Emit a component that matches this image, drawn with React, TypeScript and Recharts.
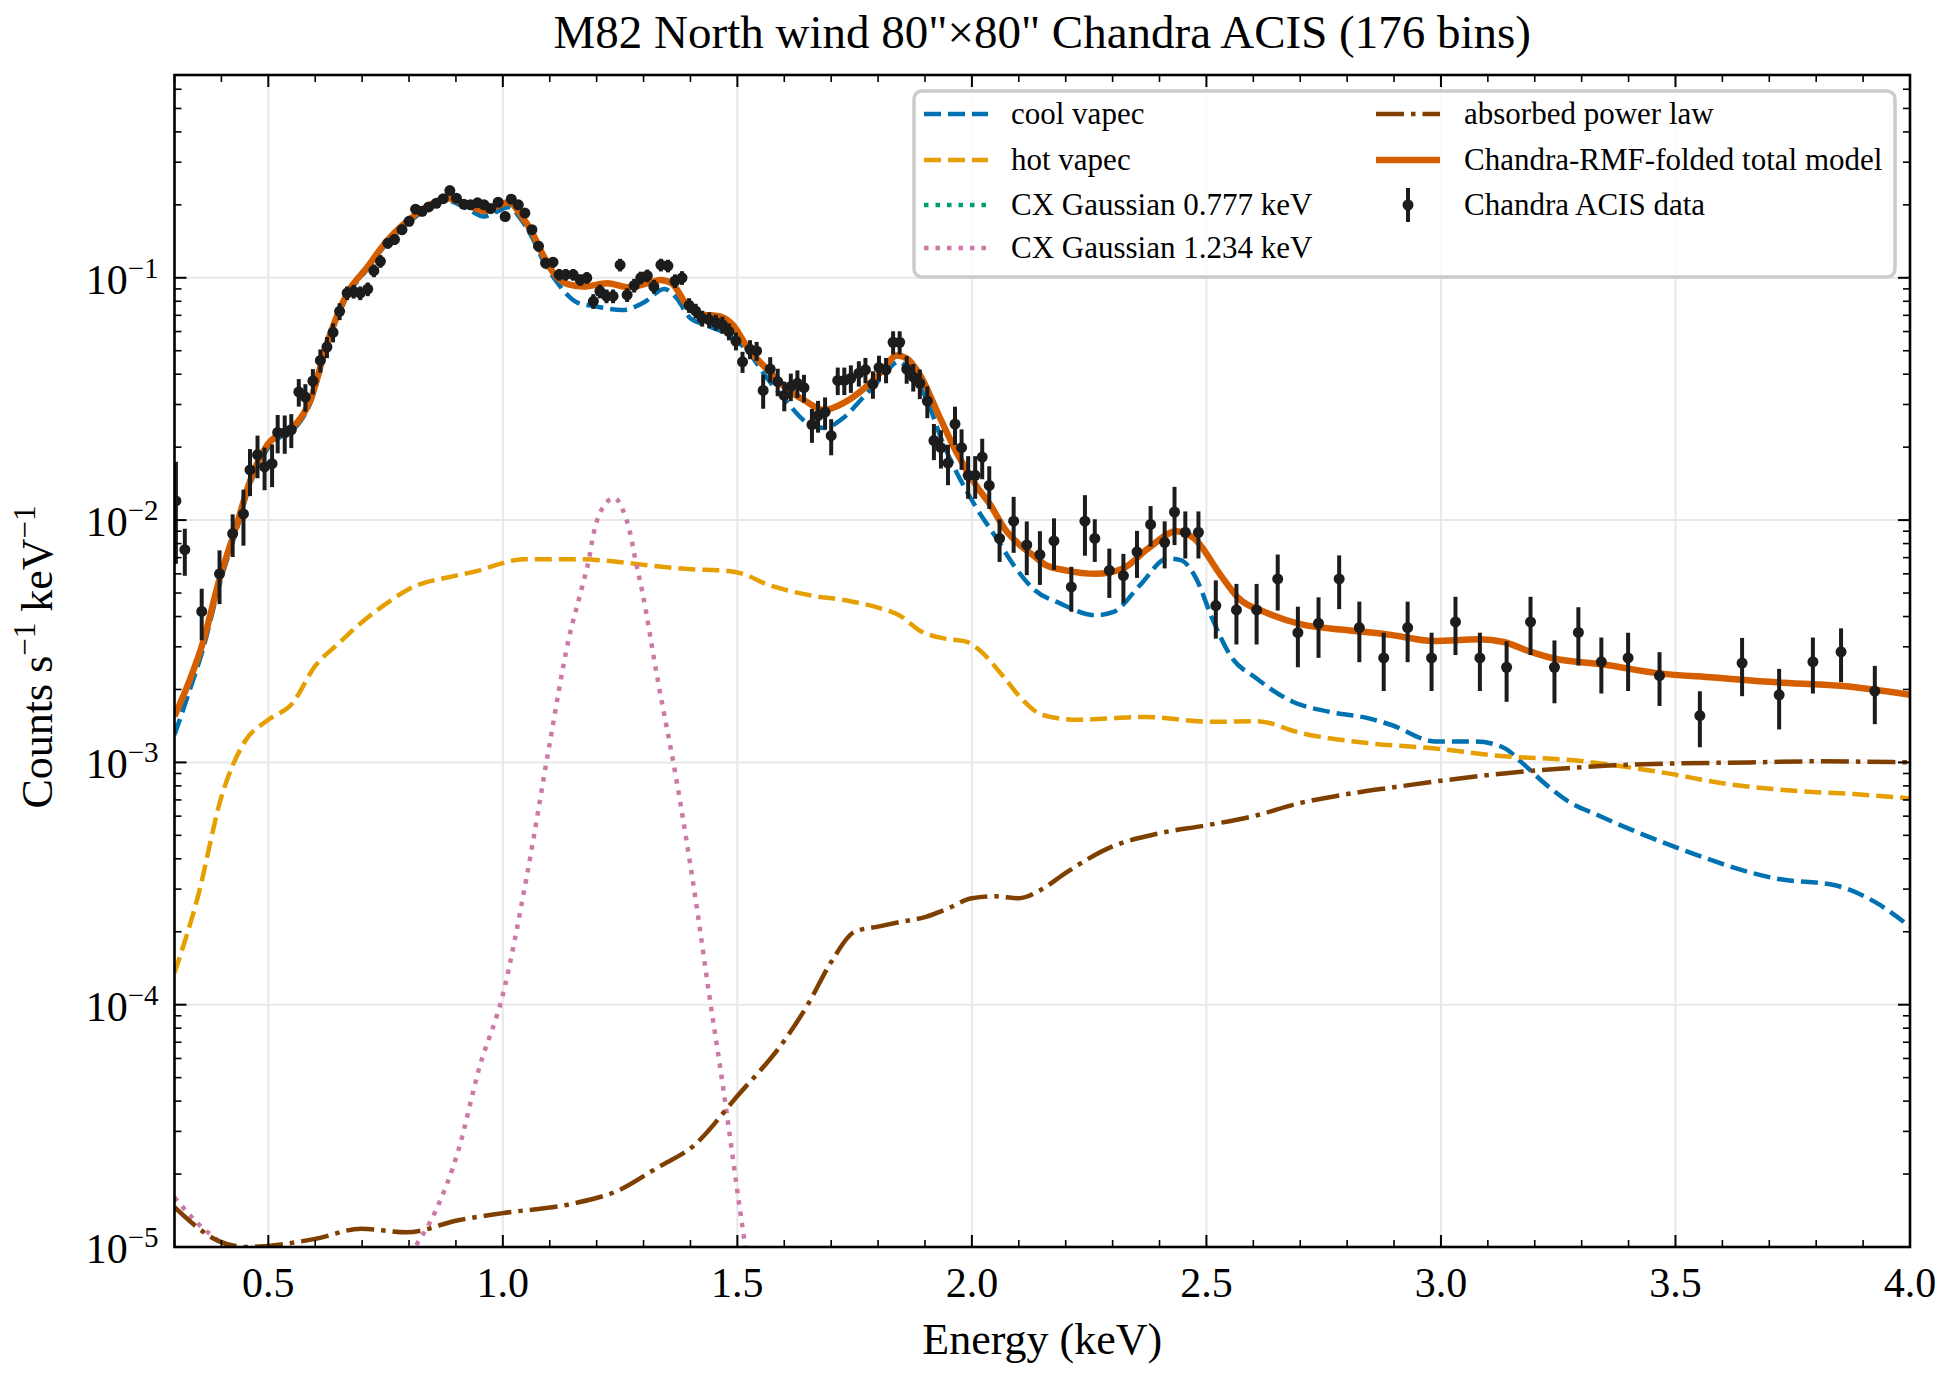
import { CartesianGrid, ComposedChart, ErrorBar, Line, Scatter, XAxis, YAxis } from "recharts"

// page / plot frame (pixels)
const W = 1955
const H = 1380
const PLOT_L = 174.5
const PLOT_R = 1910
const PLOT_T = 75
const PLOT_B = 1247
const FONT = "'Liberation Serif', 'Times New Roman', 'DejaVu Serif', serif"

// axes
const X_DOMAIN = [0.3, 4.0]
const Y_DOMAIN = [1e-5, 0.687]
const X_MAJOR = [0.5, 1.0, 1.5, 2.0, 2.5, 3.0, 3.5, 4.0]
const X_MINOR = [0.3, 0.4, 0.6, 0.7, 0.8, 0.9, 1.1, 1.2, 1.3, 1.4, 1.6, 1.7, 1.8, 1.9, 2.1, 2.2, 2.3, 2.4, 2.6, 2.7, 2.8, 2.9, 3.1, 3.2, 3.3, 3.4, 3.6, 3.7, 3.8, 3.9]
const Y_MAJOR = [1e-5, 1e-4, 1e-3, 1e-2, 1e-1]
const Y_MINOR_MANTISSA = [2, 3, 4, 5, 6, 7, 8, 9]

// cool vapec
const coolE = [0.3, 0.333, 0.36, 0.397, 0.433, 0.461, 0.497, 0.532, 0.561, 0.59, 0.625, 0.668, 0.71, 0.753, 0.796, 0.839, 0.881, 0.924, 0.96, 0.986, 1.013, 1.038, 1.063, 1.084, 1.117, 1.159, 1.202, 1.254, 1.303, 1.344, 1.368, 1.4, 1.433, 1.482, 1.523, 1.563, 1.604, 1.645, 1.685, 1.726, 1.767, 1.807, 1.844, 1.872, 1.905, 1.937, 1.97, 2.01, 2.051, 2.092, 2.131, 2.188, 2.264, 2.302, 2.359, 2.417, 2.445, 2.478, 2.512, 2.55, 2.607, 2.684, 2.76, 2.846, 2.893, 2.989, 3.074, 3.134, 3.172, 3.224, 3.269, 3.335, 3.5, 3.72, 3.84, 3.926, 4.0]
const coolV = [1.3e-3, 2.0e-3, 2.9e-3, 5.5e-3, 9.2e-3, 0.014, 0.0195, 0.0225, 0.0245, 0.0305, 0.052, 0.084, 0.108, 0.139, 0.167, 0.193, 0.208, 0.193, 0.179, 0.187, 0.196, 0.175, 0.146, 0.12, 0.095, 0.079, 0.076, 0.0736, 0.0796, 0.09, 0.0835, 0.068, 0.0638, 0.058, 0.0496, 0.0386, 0.031, 0.0255, 0.024, 0.0264, 0.0319, 0.0386, 0.045, 0.0398, 0.031, 0.0211, 0.0154, 0.0112, 0.0085, 0.0064, 0.0052, 0.00453, 0.00405, 0.00418, 0.0054, 0.00695, 0.00684, 0.00575, 0.00394, 0.00278, 0.00222, 0.00178, 0.00162, 0.00152, 0.00143, 0.00122, 0.00122, 0.00115, 0.001, 0.00081, 0.000695, 0.000605, 0.000447, 0.00033, 0.000311, 0.000265, 0.00021]

// hot vapec
const hotE = [0.3, 0.35, 0.4, 0.45, 0.5, 0.55, 0.6, 0.65, 0.7, 0.75, 0.8, 0.9, 0.95, 0.994, 1.043, 1.157, 1.238, 1.32, 1.401, 1.466, 1.515, 1.563, 1.612, 1.661, 1.72, 1.8, 1.845, 1.892, 1.94, 1.988, 2.016, 2.064, 2.112, 2.15, 2.226, 2.369, 2.512, 2.607, 2.703, 2.846, 2.989, 3.134, 3.284, 3.358, 3.47, 3.619, 3.769, 3.88, 4.0]
const hotV = [1.35e-4, 2.8e-4, 7.2e-4, 1.22e-3, 1.5e-3, 1.74e-3, 2.5e-3, 3.1e-3, 3.8e-3, 4.5e-3, 5.2e-3, 5.9e-3, 6.2e-3, 6.6e-3, 6.9e-3, 6.9e-3, 6.75e-3, 6.47e-3, 6.27e-3, 6.2e-3, 5.97e-3, 5.43e-3, 5.1e-3, 4.87e-3, 4.7e-3, 4.35e-3, 4.05e-3, 3.47e-3, 3.25e-3, 3.15e-3, 2.91e-3, 2.3e-3, 1.78e-3, 1.57e-3, 1.5e-3, 1.54e-3, 1.47e-3, 1.48e-3, 1.32e-3, 1.2e-3, 1.14e-3, 1.06e-3, 1.02e-3, 9.8e-4, 9.1e-4, 8.1e-4, 7.6e-4, 7.4e-4, 7.1e-4]

// CX Gaussian 0.777 keV: stays under the 1e-5 floor everywhere, nothing visible
const cx777E: number[] = []
const cx777V: number[] = []

// CX Gaussian 1.234 keV
const cx1234E = [0.3, 0.35, 0.4, 0.45, 0.55, 0.65, 0.75, 0.817, 0.856, 0.905, 0.95, 1.0, 1.05, 1.1, 1.14, 1.169, 1.183, 1.193, 1.207, 1.238, 1.256, 1.271, 1.283, 1.297, 1.33, 1.37, 1.41, 1.44, 1.47, 1.5, 1.52, 1.55]
const cx1234V = [1.6e-5, 1.25e-5, 1.03e-5, 8e-6, 6e-6, 5.5e-6, 7e-6, 1.03e-5, 1.4e-5, 2.5e-5, 5.5e-5, 1.1e-4, 3.3e-4, 1.2e-3, 3.2e-3, 5.3e-3, 6.8e-3, 8.7e-3, 1.07e-2, 1.235e-2, 1.1e-2, 8.9e-3, 6.8e-3, 5.1e-3, 2.2e-3, 8.5e-4, 2.8e-4, 1.1e-4, 4.5e-5, 1.7e-5, 9e-6, 3e-6]

// absorbed power law
const plE = [0.3, 0.35, 0.393, 0.454, 0.6, 0.698, 0.795, 0.905, 1.0, 1.149, 1.246, 1.332, 1.405, 1.5, 1.6, 1.65, 1.7, 1.75, 1.8, 1.85, 1.9, 1.95, 2.0, 2.05, 2.1, 2.15, 2.2, 2.3, 2.4, 2.5, 2.6, 2.7, 2.8, 2.9, 3.0, 3.134, 3.358, 3.5, 3.657, 3.8, 4.0]
const plV = [1.46e-5, 1.2e-5, 1.06e-5, 1.0e-5, 1.08e-5, 1.19e-5, 1.15e-5, 1.29e-5, 1.38e-5, 1.51e-5, 1.71e-5, 2.14e-5, 2.6e-5, 4.2e-5, 7.1e-5, 1.0e-4, 1.5e-4, 2.0e-4, 2.1e-4, 2.2e-4, 2.3e-4, 2.5e-4, 2.75e-4, 2.8e-4, 2.75e-4, 3.0e-4, 3.5e-4, 4.5e-4, 5.1e-4, 5.5e-4, 6.0e-4, 6.8e-4, 7.4e-4, 7.9e-4, 8.4e-4, 9.0e-4, 9.7e-4, 9.9e-4, 1.0e-3, 1.01e-3, 1.0e-3]

// Chandra-RMF-folded total model
const totalE = [0.3, 0.333, 0.36, 0.397, 0.433, 0.461, 0.497, 0.532, 0.561, 0.59, 0.625, 0.668, 0.71, 0.753, 0.796, 0.839, 0.881, 0.924, 0.96, 0.986, 1.013, 1.038, 1.063, 1.084, 1.109, 1.14, 1.173, 1.223, 1.266, 1.309, 1.336, 1.36, 1.393, 1.417, 1.466, 1.49, 1.523, 1.563, 1.604, 1.645, 1.685, 1.726, 1.767, 1.807, 1.84, 1.86, 1.889, 1.929, 1.97, 2.01, 2.04, 2.07, 2.102, 2.133, 2.159, 2.2, 2.264, 2.321, 2.378, 2.436, 2.474, 2.531, 2.569, 2.626, 2.703, 2.798, 2.893, 2.985, 3.082, 3.134, 3.187, 3.239, 3.343, 3.466, 3.582, 3.716, 3.851, 4.0]
const totalV = [1.55e-3, 2.2e-3, 3.1e-3, 5.8e-3, 9.6e-3, 0.0145, 0.0203, 0.0232, 0.0252, 0.0314, 0.0535, 0.086, 0.11, 0.142, 0.171, 0.197, 0.213, 0.2, 0.189, 0.197, 0.205, 0.182, 0.153, 0.126, 0.104, 0.094, 0.092, 0.095, 0.0915, 0.095, 0.098, 0.095, 0.077, 0.071, 0.069, 0.064, 0.051, 0.042, 0.035, 0.031, 0.0285, 0.0304, 0.0345, 0.041, 0.0478, 0.0466, 0.0398, 0.0272, 0.0186, 0.0138, 0.0115, 0.0092, 0.0079, 0.0071, 0.0065, 0.0062, 0.006, 0.0063, 0.0077, 0.009, 0.0084, 0.0059, 0.00475, 0.00416, 0.00371, 0.00352, 0.00336, 0.00317, 0.00322, 0.00314, 0.00288, 0.00269, 0.00254, 0.00233, 0.00224, 0.00214, 0.00207, 0.0019]

// Chandra ACIS data: bin energy, rate, 1-sigma as a fraction of the rate
const dataE = [0.303, 0.322, 0.358, 0.396, 0.424, 0.447, 0.461, 0.477, 0.492, 0.508, 0.52, 0.535, 0.549, 0.565, 0.579, 0.595, 0.611, 0.625, 0.638, 0.652, 0.668, 0.682, 0.696, 0.712, 0.725, 0.739, 0.755, 0.769, 0.785, 0.8, 0.814, 0.828, 0.842, 0.858, 0.873, 0.887, 0.901, 0.917, 0.931, 0.946, 0.96, 0.974, 0.99, 1.005, 1.018, 1.033, 1.047, 1.062, 1.076, 1.091, 1.107, 1.12, 1.134, 1.15, 1.165, 1.179, 1.193, 1.207, 1.221, 1.235, 1.25, 1.265, 1.28, 1.294, 1.308, 1.322, 1.337, 1.352, 1.367, 1.382, 1.397, 1.411, 1.425, 1.44, 1.454, 1.468, 1.482, 1.497, 1.511, 1.527, 1.541, 1.555, 1.57, 1.586, 1.6, 1.614, 1.628, 1.642, 1.659, 1.672, 1.687, 1.7, 1.714, 1.728, 1.742, 1.759, 1.773, 1.789, 1.802, 1.817, 1.832, 1.846, 1.861, 1.875, 1.889, 1.905, 1.919, 1.934, 1.949, 1.964, 1.978, 1.992, 2.007, 2.022, 2.037, 2.059, 2.089, 2.117, 2.145, 2.175, 2.212, 2.241, 2.262, 2.293, 2.323, 2.352, 2.381, 2.411, 2.432, 2.455, 2.483, 2.52, 2.564, 2.607, 2.652, 2.695, 2.739, 2.783, 2.826, 2.878, 2.929, 2.98, 3.031, 3.083, 3.14, 3.191, 3.242, 3.293, 3.342, 3.399, 3.466, 3.552, 3.642, 3.721, 3.793, 3.853, 3.925]
const dataV = [0.012, 0.00755, 0.0042, 0.006, 0.0088, 0.0106, 0.0161, 0.0186, 0.0166, 0.0171, 0.023, 0.0229, 0.0236, 0.0338, 0.0322, 0.0375, 0.0456, 0.0518, 0.0595, 0.0727, 0.0865, 0.0878, 0.0865, 0.0898, 0.107, 0.117, 0.139, 0.144, 0.158, 0.171, 0.192, 0.188, 0.196, 0.203, 0.212, 0.229, 0.213, 0.201, 0.2, 0.204, 0.2, 0.193, 0.205, 0.179, 0.211, 0.2, 0.185, 0.158, 0.135, 0.115, 0.116, 0.103, 0.103, 0.103, 0.098, 0.1, 0.08, 0.088, 0.084, 0.084, 0.113, 0.085, 0.093, 0.1, 0.102, 0.092, 0.113, 0.112, 0.097, 0.1, 0.077, 0.073, 0.068, 0.067, 0.0655, 0.064, 0.06, 0.0548, 0.045, 0.0507, 0.0499, 0.0343, 0.042, 0.0373, 0.0327, 0.0356, 0.0367, 0.0352, 0.0248, 0.027, 0.0279, 0.0223, 0.0377, 0.0377, 0.0385, 0.0404, 0.0417, 0.0364, 0.0426, 0.0417, 0.0542, 0.0542, 0.042, 0.039, 0.0367, 0.031, 0.0213, 0.0199, 0.0172, 0.0249, 0.0199, 0.0153, 0.0153, 0.0182, 0.0139, 0.0084, 0.0099, 0.0079, 0.0072, 0.0082, 0.0053, 0.0099, 0.0084, 0.0062, 0.0059, 0.0074, 0.0096, 0.0081, 0.0108, 0.0089, 0.0089, 0.00444, 0.00426, 0.00426, 0.00572, 0.00343, 0.00375, 0.00572, 0.0036, 0.0027, 0.0036, 0.0027, 0.0038, 0.0027, 0.00247, 0.0038, 0.00247, 0.00344, 0.0026, 0.0027, 0.00228, 0.00156, 0.00257, 0.0019, 0.0026, 0.00286, 0.00197]
const dataErrFrac = [0.45, 0.22, 0.24, 0.25, 0.2, 0.26, 0.22, 0.2, 0.2, 0.2, 0.18, 0.18, 0.16, 0.13, 0.13, 0.12, 0.11, 0.1, 0.09, 0.08, 0.065, 0.065, 0.065, 0.065, 0.06, 0.06, 0.05, 0.05, 0.05, 0.045, 0.045, 0.045, 0.04, 0.04, 0.04, 0.04, 0.04, 0.04, 0.04, 0.04, 0.04, 0.04, 0.04, 0.045, 0.04, 0.04, 0.045, 0.045, 0.05, 0.05, 0.05, 0.055, 0.055, 0.055, 0.055, 0.055, 0.07, 0.065, 0.065, 0.065, 0.06, 0.065, 0.065, 0.06, 0.06, 0.065, 0.06, 0.06, 0.065, 0.065, 0.07, 0.07, 0.075, 0.075, 0.075, 0.08, 0.08, 0.085, 0.1, 0.09, 0.09, 0.16, 0.12, 0.13, 0.14, 0.13, 0.13, 0.13, 0.16, 0.15, 0.15, 0.17, 0.13, 0.13, 0.13, 0.12, 0.12, 0.13, 0.12, 0.12, 0.11, 0.11, 0.13, 0.13, 0.14, 0.15, 0.17, 0.18, 0.19, 0.18, 0.19, 0.2, 0.2, 0.19, 0.2, 0.2, 0.26, 0.25, 0.25, 0.24, 0.21, 0.28, 0.2, 0.23, 0.23, 0.22, 0.19, 0.22, 0.27, 0.22, 0.22, 0.27, 0.28, 0.28, 0.26, 0.28, 0.28, 0.25, 0.28, 0.27, 0.28, 0.27, 0.27, 0.27, 0.28, 0.27, 0.29, 0.27, 0.26, 0.27, 0.25, 0.26, 0.27, 0.28, 0.26, 0.25, 0.27]

const SERIES = [
  { name: "cool vapec", color: "#0072B2", width: 4.5, dash: "17 7", e: coolE, v: coolV },
  { name: "hot vapec", color: "#E69F00", width: 4.5, dash: "17 7", e: hotE, v: hotV },
  { name: "CX Gaussian 0.777 keV", color: "#009E73", width: 4.5, dash: "4.5 7", e: cx777E, v: cx777V },
  { name: "CX Gaussian 1.234 keV", color: "#CC79A7", width: 4.5, dash: "4.5 7", e: cx1234E, v: cx1234V },
  { name: "absorbed power law", color: "#7F3F00", width: 4.5, dash: "28 7 4.5 7", e: plE, v: plV },
  { name: "Chandra-RMF-folded total model", color: "#D55E00", width: 6.5, dash: undefined, e: totalE, v: totalV },
]
const DATA_COLOR = "#1c1c1c"

const toPoints = (es: number[], vs: number[]) => es.map((e, i) => ({ e, v: vs[i] }))
const dataPoints = dataE.map((e, i) => ({ e, v: dataV[i], err: dataV[i] * dataErrFrac[i] }))

const X_TICKS = [...X_MAJOR, ...X_MINOR].sort((a, b) => a - b)
const Y_MINOR = Y_MAJOR.flatMap((d) => Y_MINOR_MANTISSA.map((m) => m * d)).filter((v) => v < Y_DOMAIN[1])
const Y_TICKS = [...Y_MAJOR, ...Y_MINOR].sort((a, b) => a - b)
const isIn = (list: number[], v: number) => list.some((m) => Math.abs(m - v) / m < 1e-6)

const XTick = (props: any) => {
  const { x, payload } = props
  const v = payload.value
  const major = isIn(X_MAJOR, v)
  const len = major ? 12 : 7
  return (
    <g>
      <line x1={x} x2={x} y1={PLOT_B} y2={PLOT_B - len} stroke="#000" strokeWidth={major ? 2 : 1.6} />
      <line x1={x} x2={x} y1={PLOT_T} y2={PLOT_T + len} stroke="#000" strokeWidth={major ? 2 : 1.6} />
      {major && (
        <text x={x} y={1297} textAnchor="middle" fontSize={42} fontFamily={FONT} fill="#000">
          {v.toFixed(1)}
        </text>
      )}
    </g>
  )
}

const YTick = (props: any) => {
  const { y, payload } = props
  const v = payload.value
  const major = isIn(Y_MAJOR, v)
  const len = major ? 12 : 7
  const exp = Math.round(Math.log10(v))
  return (
    <g>
      <line x1={PLOT_L} x2={PLOT_L + len} y1={y} y2={y} stroke="#000" strokeWidth={major ? 2 : 1.6} />
      <line x1={PLOT_R} x2={PLOT_R - len} y1={y} y2={y} stroke="#000" strokeWidth={major ? 2 : 1.6} />
      {major && (
        <text x={PLOT_L - 16} y={y + 16} textAnchor="end" fontSize={42} fontFamily={FONT} fill="#000">
          10
          <tspan fontSize={29} dy={-16}>{`\u2212${Math.abs(exp)}`}</tspan>
        </text>
      )}
    </g>
  )
}

const LEGEND_ROWS = [114, 160, 205, 248]

const LegendBox = () => {
  const items = [...SERIES.map((s) => ({ ...s, isData: false })), { name: "Chandra ACIS data", isData: true } as any]
  return (
    <g>
      <rect x={914} y={91} width={981} height={186} rx={8} fill="rgba(255,255,255,0.8)" stroke="#cccccc" strokeWidth={3.5} />
      {items.map((it: any, i: number) => {
        const col = i < 4 ? 0 : 1
        const row = i < 4 ? i : i - 4
        const y = LEGEND_ROWS[row]
        const hx = col === 0 ? 924 : 1376
        const tx = col === 0 ? 1011 : 1464
        return (
          <g key={it.name}>
            {it.isData ? (
              <g>
                <line x1={hx + 32} x2={hx + 32} y1={y - 17} y2={y + 17} stroke={DATA_COLOR} strokeWidth={4} />
                <circle cx={hx + 32} cy={y} r={5.5} fill={DATA_COLOR} />
              </g>
            ) : (
              <line x1={hx} x2={hx + 64} y1={y} y2={y} stroke={it.color} strokeWidth={it.width} strokeDasharray={it.dash} />
            )}
            <text x={tx} y={y + 10} fontSize={31} fontFamily={FONT} fill="#000">
              {it.name}
            </text>
          </g>
        )
      })}
    </g>
  )
}

const App = () => {
  return (
    <div style={{ position: "absolute", left: 0, top: 0, width: W, height: H, background: "#fff" }}>
      <ComposedChart width={W} height={H} margin={{ top: PLOT_T, right: W - PLOT_R, bottom: 73, left: PLOT_L - 100 }}>
        <CartesianGrid horizontalValues={Y_MAJOR} verticalValues={X_MAJOR} stroke="#e8e8e8" strokeWidth={2} />
        <XAxis
          type="number"
          dataKey="e"
          domain={X_DOMAIN}
          ticks={X_TICKS}
          interval={0}
          tick={XTick}
          tickLine={false}
          axisLine={false}
          height={60}
          allowDataOverflow
        />
        <YAxis
          type="number"
          scale="log"
          domain={Y_DOMAIN}
          ticks={Y_TICKS}
          interval={0}
          tick={YTick}
          tickLine={false}
          axisLine={false}
          width={100}
          allowDataOverflow
        />
        {SERIES.map((s) => (
          <Line
            key={s.name}
            data={toPoints(s.e, s.v)}
            dataKey="v"
            type="monotone"
            stroke={s.color}
            strokeWidth={s.width}
            strokeDasharray={s.dash}
            dot={false}
            activeDot={false}
            isAnimationActive={false}
          />
        ))}
        <Scatter
          data={dataPoints}
          dataKey="v"
          isAnimationActive={false}
          shape={(p: any) => <circle cx={p.cx} cy={p.cy} r={5.5} fill={DATA_COLOR} />}
        >
          <ErrorBar dataKey="err" direction="y" width={0} stroke={DATA_COLOR} strokeWidth={4} isAnimationActive={false} />
        </Scatter>
      </ComposedChart>
      <svg width={W} height={H} style={{ position: "absolute", left: 0, top: 0, pointerEvents: "none" }}>
        <rect x={PLOT_L} y={PLOT_T} width={PLOT_R - PLOT_L} height={PLOT_B - PLOT_T} fill="none" stroke="#000" strokeWidth={2.6} />
        <text x={(PLOT_L + PLOT_R) / 2} y={48} textAnchor="middle" fontSize={47} fontFamily={FONT} fill="#000">
          M82 North wind 80"×80" Chandra ACIS (176 bins)
        </text>
        <text x={(PLOT_L + PLOT_R) / 2} y={1354} textAnchor="middle" fontSize={44} fontFamily={FONT} fill="#000">
          Energy (keV)
        </text>
        <text transform="translate(52,657) rotate(-90)" textAnchor="middle" fontSize={44} fontFamily={FONT} fill="#000">
          Counts s
          <tspan fontSize={31} dy={-17}>{"\u22121"}</tspan>
          <tspan dy={17}> keV</tspan>
          <tspan fontSize={31} dy={-17}>{"\u22121"}</tspan>
        </text>
        <LegendBox />
      </svg>
    </div>
  )
}

export default App
